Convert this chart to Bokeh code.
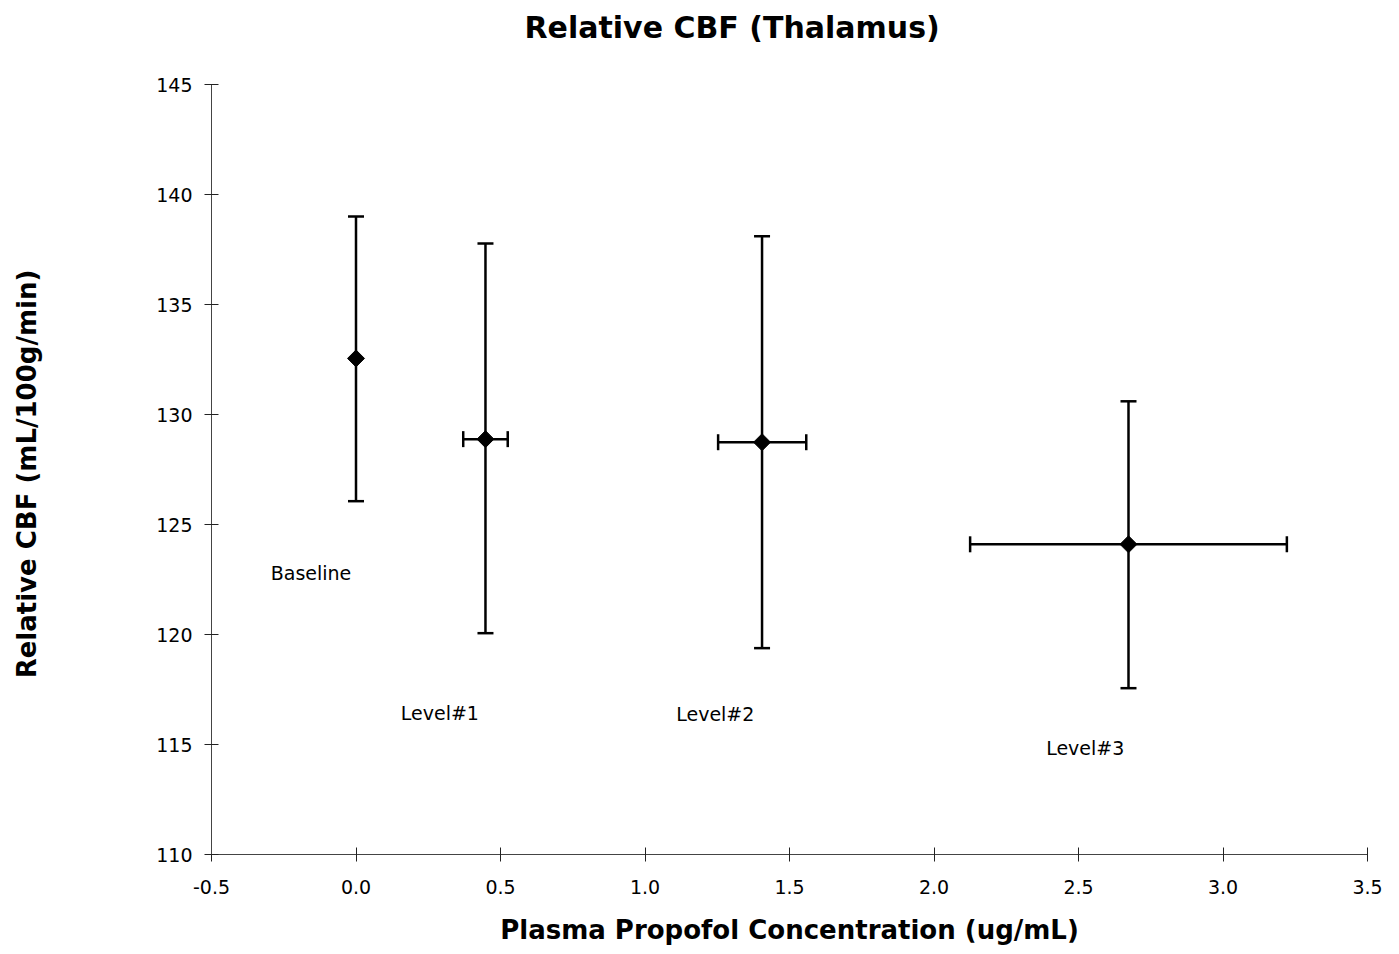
import numpy as np
from bokeh.plotting import figure
from bokeh.models import (ColumnDataSource, Whisker, TeeHead, Label, Range1d, Title,
                          FixedTicker, NumeralTickFormatter)
from bokeh.embed import file_html
from bokeh.resources import INLINE

# ---------------- data ----------------
levels = ["Baseline", "Level#1", "Level#2", "Level#3"]
conc = [0.0, 0.448, 1.405, 2.673]            # plasma propofol (ug/mL)
cbf = [132.55, 128.88, 128.74, 124.10]       # relative CBF
cbf_upper = [139.0, 137.77, 138.1, 130.6]
cbf_lower = [126.06, 120.06, 119.38, 117.56]
conc_lower = [None, 0.371, 1.253, 2.125]
conc_upper = [None, 0.525, 1.558, 3.221]
label_x = [-0.295, 0.155, 1.108, 2.388]
label_y = [122.79, 116.45, 116.38, 114.83]
x_ticks = [-0.5, 0.0, 0.5, 1.0, 1.5, 2.0, 2.5, 3.0, 3.5]
y_ticks = [110, 115, 120, 125, 130, 135, 140, 145]

title_text = "Relative CBF (Thalamus)"
xlabel = "Plasma Propofol Concentration (ug/mL)"
ylabel = "Relative CBF  (mL/100g/min)"

FONT = "DejaVu Sans"

p = figure(width=1399, height=954, x_range=Range1d(-0.5, 3.5), y_range=Range1d(110, 145),
           output_backend="svg", toolbar_location=None,
           min_border_left=211, min_border_right=32, min_border_top=84, min_border_bottom=100,
           background_fill_color="white", border_fill_color="white", outline_line_color=None)
p.grid.visible = False

# spacer between frame and title (keeps the title high above the plot area)
spacer = Title(text=" ", standoff=25, text_font=FONT, text_font_size="10px")
p.add_layout(spacer, "above")
title = Title(text=title_text, align="left", offset=313, standoff=0, vertical_align="top",
              text_font=FONT, text_font_size="30px", text_font_style="bold",
              text_color="black")
p.add_layout(title, "above")

for ax in (p.xaxis[0], p.yaxis[0]):
    ax.axis_line_color = "#444444"
    ax.axis_line_width = 1
    ax.major_tick_line_color = "#222222"
    ax.major_tick_in = 7
    ax.major_tick_out = 7
    ax.minor_tick_line_color = None
    ax.major_label_text_font = FONT
    ax.major_label_text_font_size = "19px"
    ax.major_label_text_color = "black"
    ax.axis_label_text_font = FONT
    ax.axis_label_text_font_size = "26px"
    ax.axis_label_text_font_style = "bold"
    ax.axis_label_text_color = "black"

p.xaxis.ticker = FixedTicker(ticks=x_ticks)
p.xaxis.formatter = NumeralTickFormatter(format="0.0")
p.xaxis.major_label_standoff = 18
p.xaxis.axis_label = xlabel
p.xaxis.axis_label_standoff = 18
p.yaxis.ticker = FixedTicker(ticks=y_ticks)
p.yaxis.major_label_standoff = 12
p.yaxis.axis_label = ylabel
p.yaxis.axis_label_standoff = 111

# vertical error bars
vsrc = ColumnDataSource(dict(x=conc, y=cbf, lo=cbf_lower, hi=cbf_upper))
p.add_layout(Whisker(source=vsrc, base="x", lower="lo", upper="hi", dimension="height",
                     line_width=2.5, line_color="black",
                     lower_head=TeeHead(size=16, line_width=2.5, line_color="black"),
                     upper_head=TeeHead(size=16, line_width=2.5, line_color="black")))

# horizontal error bars (only levels with concentration spread)
idx = [i for i in range(len(conc)) if conc_lower[i] is not None]
hsrc = ColumnDataSource(dict(y=[cbf[i] for i in idx],
                             lo=[conc_lower[i] for i in idx],
                             hi=[conc_upper[i] for i in idx]))
p.add_layout(Whisker(source=hsrc, base="y", lower="lo", upper="hi", dimension="width",
                     line_width=2.5, line_color="black",
                     lower_head=TeeHead(size=16, line_width=2.5, line_color="black"),
                     upper_head=TeeHead(size=16, line_width=2.5, line_color="black")))

# markers
src = ColumnDataSource(dict(x=conc, y=cbf))
p.scatter("x", "y", source=src, marker="square", angle=np.pi / 4, size=12,
          fill_color="black", line_color="black")

# level labels
for name, lx, ly in zip(levels, label_x, label_y):
    p.add_layout(Label(x=lx, y=ly, text=name, text_font=FONT, text_font_size="19px",
                       text_align="left", text_baseline="middle", text_color="black"))

open("out.html", "w").write(file_html(p, INLINE))
